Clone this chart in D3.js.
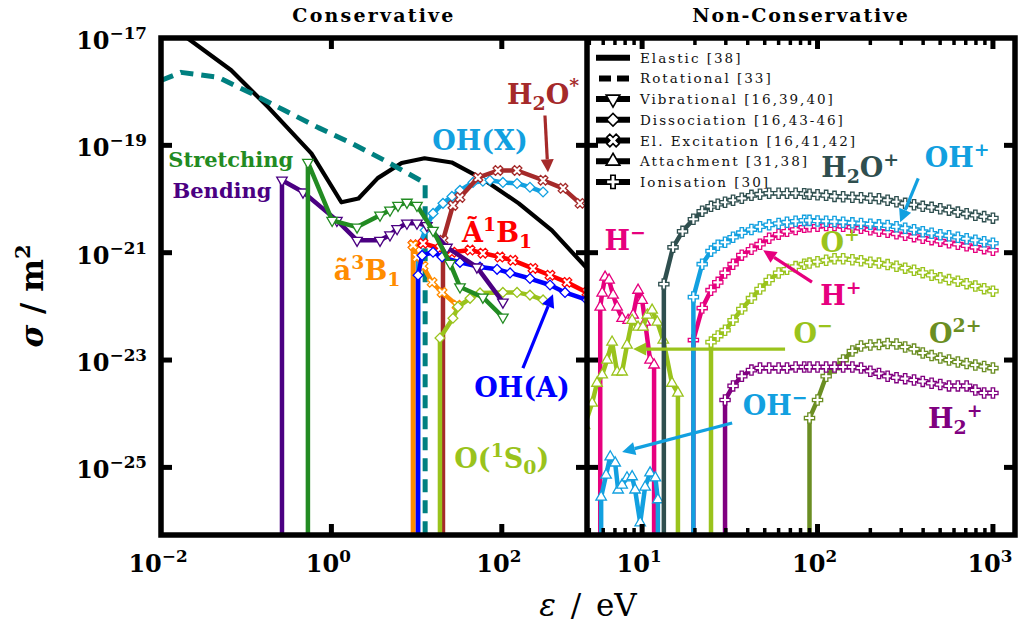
<!DOCTYPE html>
<html>
<head>
<meta charset="utf-8">
<script src="https://cdn.jsdelivr.net/npm/d3@7"></script>
<style>
  body { margin: 0; background: #fff; }
  svg text { font-family: "DejaVu Serif", serif; }
</style>
</head>
<body>
<svg id="chart" width="1024" height="630"></svg>
<script>
// ---------- data: [energy eV, cross section m^2] ----------
const elastic = [[0.015,1.4e-17],[0.0225,8.9e-18],[0.0667,2.5e-18],[0.182,5.1e-19],[0.582,7.1e-20],[1.31,8.7e-21],[2.08,1.02e-20],[3.5,2.45e-20],[6.67,4.7e-20],[12.4,5.75e-20],[25.8,4.8e-20],[63,2.24e-20],[158,8.3e-21],[387,2.6e-21],[1000,5.1e-22]];
const rotational = [[0.01,1.62e-18],[0.0172,2.29e-18],[0.0469,1.86e-18],[0.1146,9.3e-19],[0.28,4.5e-19],[0.703,2.14e-19],[1.72,1.1e-19],[4.2,5.25e-20],[11,2.24e-20],[12.6,2.0e-20],[12.6,0]];

const vibStretching = [[0.53,0],[0.53,4.8e-20],[1.02,4.0e-21],[2.0,3.0e-21],[3.72,5.0e-21],[4.87,6.2e-21],[6.05,7.6e-21],[7.7,8.7e-21],[10.1,7.6e-21],[15.6,2.6e-21],[24.7,6.3e-22],[32.3,2.3e-22],[60,1.48e-22],[103,6.3e-23]];
const vibBending = [[0.263,0],[0.263,2.24e-20],[0.464,1.35e-20],[1.16,4.0e-21],[2.0,1.7e-21],[3.72,1.7e-21],[4.87,2.14e-21],[5.9,2.8e-21],[7.7,3.55e-21],[10.1,3.55e-21],[13.2,3.2e-21],[22.7,1.26e-21],[51,5.4e-22],[103,1.2e-22]];

const excA3B1 = [[9.1,0],[9.1,1.38e-21],[10.1,8.3e-22],[11.9,5.6e-22],[15.2,2.8e-22],[19.9,1.82e-22],[29.8,1.05e-22]];
const excA1B1 = [[9.1,0],[9.1,1.4e-21],[11.9,1.5e-21],[18.8,1.2e-21],[26,1.02e-21],[42.4,1.12e-21],[60,9.8e-22],[95,8.3e-22],[135,7.2e-22],[232,5.1e-22],[368,3.8e-22],[582,2.8e-22],[1000,1.82e-22]];
const excH2Ostar = [[20.4,0],[20.4,1.7e-21],[26.7,7.6e-21],[32.3,1.07e-20],[52.5,2.5e-20],[90,3.4e-20],[151,3.4e-20],[305,2.24e-20],[523,1.58e-20],[828,8.3e-21]];

const dissOHX = [[10.4,0],[10.4,1.12e-21],[12.6,2.63e-21],[15.6,5.4e-21],[20.4,8.3e-21],[26,1.12e-20],[32.3,1.45e-20],[45.9,2.04e-20],[60,2.14e-20],[72.6,2.24e-20],[103,2.04e-20],[151,1.95e-20],[214,1.66e-20],[305,1.35e-20]];
const dissOHA = [[10.4,0],[10.4,3.8e-22],[11.6,8.9e-22],[15.6,1.02e-21],[19.9,8.3e-22],[32.3,6.6e-22],[55.5,5.4e-22],[88,4.9e-22],[125,4.2e-22],[214,3.3e-22],[368,2.5e-22],[552,1.82e-22],[1000,1.32e-22]];
const dissO1S0 = [[18.8,0],[18.8,2.57e-23],[26.7,6.0e-23],[30.6,9.8e-23],[42.4,1.41e-22],[55.5,1.78e-22],[103,1.82e-22],[151,1.82e-22],[214,1.62e-22],[305,1.32e-22]];

// ionisation, shared energy grid (null = below threshold)
const ionEnergy = [13.3,15,17,19.6,22,24.7,27,29.7,33,37,42,47,53,60,67,75,84,90,100,112,125,140,158,177,200,224,251,282,316,355,398,447,501,562,631,708,794,891,1000];
const ionH2Op = [2.6e-22,1.26e-21,2.5e-21,4.2e-21,5.9e-21,7.3e-21,8.0e-21,8.7e-21,9.5e-21,1.03e-20,1.17e-20,1.23e-20,1.28e-20,1.28e-20,1.28e-20,1.28e-20,1.26e-20,1.23e-20,1.2e-20,1.17e-20,1.12e-20,1.1e-20,1.08e-20,1.06e-20,1.03e-20,1.01e-20,9.5e-21,8.9e-21,8.3e-21,7.8e-21,7.3e-21,7.0e-21,6.6e-21,6.2e-21,5.7e-21,5.3e-21,5.0e-21,4.7e-21,4.4e-21];
const ionOHp = [null,null,null,1.49e-22,6.1e-22,1.07e-21,1.38e-21,1.57e-21,1.94e-21,2.36e-21,2.7e-21,3.05e-21,3.3e-21,3.5e-21,3.7e-21,3.85e-21,4.0e-21,4.0e-21,3.9e-21,3.85e-21,3.8e-21,3.7e-21,3.6e-21,3.5e-21,3.4e-21,3.3e-21,3.2e-21,3.05e-21,2.86e-21,2.68e-21,2.46e-21,2.3e-21,2.16e-21,2.07e-21,1.94e-21,1.82e-21,1.71e-21,1.6e-21,1.5e-21];
const ionHp = [null,null,null,2.36e-23,9.3e-23,2.0e-22,2.8e-22,4.2e-22,6.1e-22,9.0e-22,1.16e-21,1.44e-21,1.86e-21,2.2e-21,2.5e-21,2.7e-21,2.98e-21,3.05e-21,3.1e-21,3.2e-21,3.2e-21,3.1e-21,2.98e-21,2.86e-21,2.68e-21,2.5e-21,2.4e-21,2.25e-21,2.12e-21,1.99e-21,1.86e-21,1.75e-21,1.64e-21,1.53e-21,1.44e-21,1.35e-21,1.26e-21,1.19e-21,1.11e-21];
const ionOp = [null,null,null,null,null,2.16e-23,2.8e-23,3.6e-23,5.5e-23,8.9e-23,1.42e-22,2.1e-22,3.1e-22,4.2e-22,4.9e-22,5.5e-22,6.1e-22,6.4e-22,6.8e-22,7.25e-22,7.7e-22,7.7e-22,7.4e-22,7.1e-22,6.65e-22,6.4e-22,6.0e-22,5.6e-22,5.15e-22,4.7e-22,4.25e-22,3.8e-22,3.4e-22,3.15e-22,2.95e-22,2.65e-22,2.4e-22,2.14e-22,1.92e-22];
const ionH2p = [null,null,null,null,null,null,null,1.8e-24,3.3e-24,5.0e-24,6.5e-24,7.1e-24,7.1e-24,7.1e-24,7.1e-24,7.4e-24,7.4e-24,7.4e-24,7.4e-24,7.4e-24,7.4e-24,7.4e-24,7.4e-24,7.1e-24,6.2e-24,5.6e-24,5.0e-24,4.7e-24,4.5e-24,4.25e-24,4.0e-24,3.7e-24,3.5e-24,3.3e-24,3.3e-24,3.3e-24,2.77e-24,2.43e-24,2.43e-24];
const ionO2p = [null,null,null,null,null,null,null,null,null,null,null,null,null,null,null,null,null,8.3e-25,1.8e-24,5.0e-24,7.1e-24,1.0e-23,1.47e-23,1.82e-23,1.9e-23,1.94e-23,2.03e-23,1.99e-23,1.75e-23,1.6e-23,1.35e-23,1.21e-23,1.09e-23,1.0e-23,9.2e-24,8.6e-24,8.1e-24,7.6e-24,7.1e-24];

// attachment
const attHmE = [5.77,5.77,5.92,6.15,6.48,6.83,7.2,7.69,8.32,8.89,9.48,10,10.4,11.1,11.7,11.7];
const attHm  = [0,9.7e-23,1.77e-22,3.5e-22,3.1e-22,1.62e-22,9.7e-23,6.0e-23,5.5e-23,6.9e-23,2.0e-22,1.3e-22,5.1e-23,1.0e-23,8.1e-24,0];
const attOmE = [4.7,5.19,5.53,5.92,6.31,6.74,7.2,7.69,8.2,8.77,9.48,10.1,10.7,11.4,12.2,13.2,14.8,16.0,16.0];
const attOm  = [6e-25,1.58e-24,3.7e-24,5.3e-24,1.0e-23,2.16e-23,6.0e-24,6.0e-24,1.9e-23,5.5e-23,4.1e-23,4.1e-23,6.9e-23,8.5e-23,5.1e-23,2.36e-23,3.7e-24,2.43e-24,0];
const attOHmE = [5.84,5.84,6.23,6.58,7.02,7.3,7.69,8.2,8.77,9.12,9.75,10.4,11.1,11.9,12.3,12.3];
const attOHm  = [0,2.8e-26,7.2e-26,1.57e-25,1.21e-25,3.8e-26,4.7e-26,6.4e-26,6.7e-26,3.8e-26,9.3e-27,4.3e-26,7.9e-26,6.4e-26,2.5e-26,0];

// legend + axes text
const legendLabels = ["Elastic [38]", "Rotational [33]", "Vibrational [16,39,40]", "Dissociation [16,43-46]", "El. Excitation [16,41,42]", "Attachment [31,38]", "Ionisation [30]"];
const legendShapes = ["line", "dash", "triDown", "diamond", "cross", "triUp", "plus"];
const yTickExp = [-17, -19, -21, -23, -25];
const xTickExpL = [-2, 0, 2];
const xTickExpR = [1, 2, 3];
const minorTicksR = [5,6,7,8,9,20,30,40,50,60,70,80,90,200,300,400,500,600,700,800,900];

const C = {
  teal: "#008080", green: "#228b22", indigo: "#4b0082", orange: "#ff8c00", red: "#ff0000",
  brown: "#a52a2a", lightblue: "#12a0e0", blue: "#0000ff", ygreen: "#9ac31c",
  slate: "#2f4f4f", pink: "#e6007e", olive: "#6b8e23", purple: "#800080"
};

// ---------- setup ----------
const svg = d3.select("#chart");
svg.append("rect").attr("width", 1024).attr("height", 630).attr("fill", "#fff");

const top_ = 38, bottom = 535, xa = 161, xm = 587, xb = 1015;
const y = d3.scaleLog().domain([1e-17, 5.5e-27]).range([top_, bottom]);
const xL = d3.scaleLog().domain([0.01, 1000]).range([xa, xm]);
const xR = d3.scaleLog().domain([4.85, 1336]).range([xm, xb]);
const yv = s => s > 0 ? y(s) : bottom + 40;

const defs = svg.append("defs");
defs.append("clipPath").attr("id", "clipL").append("rect")
    .attr("x", xa).attr("y", top_).attr("width", xm - xa).attr("height", bottom - top_);
defs.append("clipPath").attr("id", "clipR").append("rect")
    .attr("x", xm).attr("y", top_).attr("width", xb - xm).attr("height", bottom - top_);

const shapes = {
  triDown: { type: d3.symbolTriangle, size: 48, rot: 180 },
  triUp: { type: d3.symbolTriangle, size: 48, rot: 0 },
  diamond: { type: d3.symbolSquare, size: 48, rot: 45 },
  cross: { type: d3.symbolCross, size: 58, rot: 45 },
  plus: { type: d3.symbolCross, size: 58, rot: 0 }
};

const zip = (es, ss) => es.map((e, i) => [e, ss[i]]);
const ionSeries = ss => {
  const pts = zip(ionEnergy, ss).filter(d => d[1] != null);
  return [[pts[0][0], 0], ...pts];
};

function drawSeries(g, x, pts, color, shape, opts = {}) {
  const line = d3.line().x(d => x(d[0])).y(d => yv(d[1]));
  const p = g.append("path").datum(pts)
      .attr("d", line).attr("fill", "none")
      .attr("stroke", color).attr("stroke-width", opts.width || 4.5)
      .attr("stroke-linejoin", "round");
  if (opts.dash) p.attr("stroke-dasharray", opts.dash);
  if (!shape) return;
  const s = shapes[shape];
  g.selectAll(null).data(pts.filter(d => d[1] > 0)).join("path")
      .attr("d", d3.symbol(s.type, s.size)())
      .attr("transform", d => `translate(${x(d[0])},${y(d[1])}) rotate(${s.rot})`)
      .attr("fill", "#fff").attr("stroke", color).attr("stroke-width", 1.3);
}

function richText(g, px, py, parts, size, color, opts = {}) {
  const t = g.append("text").attr("x", px).attr("y", py)
      .attr("fill", color).attr("font-size", size)
      .attr("font-weight", opts.weight || "bold")
      .attr("text-anchor", opts.anchor || "middle");
  let prev = 0;
  parts.forEach(([str, lvl]) => {
    const off = lvl > 0 ? -0.42 * size : lvl < 0 ? 0.22 * size : 0;
    t.append("tspan").attr("dy", off - prev)
        .attr("font-size", lvl ? size * 0.7 : size).text(str);
    prev = off;
  });
  return t;
}

function arrow(g, x, p0, p1, color) {
  const x0 = x(p0[0]), y0 = y(p0[1]), x1 = x(p1[0]), y1 = y(p1[1]);
  const a = Math.atan2(y1 - y0, x1 - x0), L = 13, W = 6.5;
  const bx = x1 - L * Math.cos(a), by = y1 - L * Math.sin(a);
  g.append("line").attr("x1", x0).attr("y1", y0).attr("x2", bx).attr("y2", by)
      .attr("stroke", color).attr("stroke-width", 3.2);
  g.append("polygon").attr("fill", color).attr("points", [
    [x1, y1],
    [bx + W * Math.sin(a), by - W * Math.cos(a)],
    [bx - W * Math.sin(a), by + W * Math.cos(a)]
  ].map(p => p.join(",")).join(" "));
}

// ---------- left panel: conservative ----------
const gL = svg.append("g").attr("clip-path", "url(#clipL)");
drawSeries(gL, xL, elastic, "#000", null, { width: 4.2 });
drawSeries(gL, xL, rotational, C.teal, null, { width: 5, dash: "13,8" });
drawSeries(gL, xL, dissOHX, C.lightblue, "diamond");
drawSeries(gL, xL, excA1B1, C.red, "cross");
drawSeries(gL, xL, excH2Ostar, C.brown, "cross");
drawSeries(gL, xL, excA3B1, C.orange, "cross");
drawSeries(gL, xL, dissOHA, C.blue, "diamond");
drawSeries(gL, xL, dissO1S0, C.ygreen, "diamond");
drawSeries(gL, xL, vibBending, C.indigo, "triDown");
drawSeries(gL, xL, vibStretching, C.green, "triDown");

const leftLabels = [
  { parts: [["Stretching", 0]], E: 0.066, s: 3.9e-20, color: C.green, size: 21 },
  { parts: [["Bending", 0]], E: 0.052, s: 1.03e-20, color: C.indigo, size: 21 },
  { parts: [["ã", 0], ["3", 1], ["B", 0], ["1", -1]], E: 2.62, s: 3.1e-22, color: C.orange, size: 27 },
  { parts: [["Ã", 0], ["1", 1], ["B", 0], ["1", -1]], E: 88, s: 1.57e-21, color: C.red, size: 27 },
  { parts: [["OH(X)", 0]], E: 55.5, s: 8.1e-20, color: C.lightblue, size: 27 },
  { parts: [["H", 0], ["2", -1], ["O", 0], ["*", 1]], E: 305, s: 6.0e-19, color: C.brown, size: 27 },
  { parts: [["OH(A)", 0]], E: 173, s: 2.05e-24, color: C.blue, size: 27 },
  { parts: [["O(", 0], ["1", 1], ["S", 0], ["0", -1], [")", 0]], E: 100, s: 9.8e-26, color: C.ygreen, size: 27 }
];
leftLabels.forEach(l => richText(svg, xL(l.E), y(l.s), l.parts, l.size, l.color));
arrow(svg, xL, [321, 3.6e-19], [348, 3.15e-20], C.brown);
arrow(svg, xL, [177, 7.1e-24], [399, 1.69e-22], C.blue);

// ---------- right panel: non-conservative ----------
const gR = svg.append("g").attr("clip-path", "url(#clipR)");
drawSeries(gR, xR, zip(attHmE, attHm), C.pink, "triUp");
drawSeries(gR, xR, zip(attOmE, attOm), C.ygreen, "triUp");
drawSeries(gR, xR, zip(attOHmE, attOHm), C.lightblue, "triUp");
drawSeries(gR, xR, ionSeries(ionO2p), C.olive, "plus");
drawSeries(gR, xR, ionSeries(ionH2p), C.purple, "plus");
drawSeries(gR, xR, ionSeries(ionOp), C.ygreen, "plus");
drawSeries(gR, xR, ionSeries(ionHp), C.pink, "plus");
drawSeries(gR, xR, ionSeries(ionOHp), C.lightblue, "plus");
drawSeries(gR, xR, ionSeries(ionH2Op), C.slate, "plus");

const rightLabels = [
  { parts: [["H", 0], ["2", -1], ["O", 0], ["+", 1]], E: 175, s: 2.54e-20, color: C.slate },
  { parts: [["OH", 0], ["+", 1]], E: 625, s: 3.9e-20, color: C.lightblue },
  { parts: [["H", 0], ["−", 1]], E: 8.0, s: 1.11e-21, color: C.pink },
  { parts: [["O", 0], ["+", 1]], E: 134.6, s: 1.02e-21, color: C.ygreen },
  { parts: [["H", 0], ["+", 1]], E: 136, s: 1.05e-22, color: C.pink },
  { parts: [["O", 0], ["−", 1]], E: 94.4, s: 2.07e-23, color: C.ygreen },
  { parts: [["O", 0], ["2+", 1]], E: 610, s: 2.07e-23, color: C.olive },
  { parts: [["H", 0], ["2", -1], ["+", 1]], E: 610, s: 5.4e-25, color: C.purple },
  { parts: [["OH", 0], ["−", 1]], E: 57.3, s: 9.5e-25, color: C.lightblue }
];
rightLabels.forEach(l => richText(svg, xR(l.E), y(l.s), l.parts, 27, l.color));
arrow(svg, xR, [375, 2.43e-20], [296, 3.7e-21], C.lightblue);
arrow(svg, xR, [93, 2.82e-22], [49, 1.11e-21], C.pink);
arrow(svg, xR, [65.3, 1.6e-23], [8.89, 1.6e-23], C.ygreen);
arrow(svg, xR, [32.6, 6.7e-25], [7.69, 1.94e-25], C.lightblue);

// legend
const leg = svg.append("g");
legendLabels.forEach((name, i) => {
  const ly = 57.7 + i * 20.7, kind = legendShapes[i];
  if (kind === "dash") {
    leg.append("line").attr("x1", 599).attr("x2", 630).attr("y1", ly).attr("y2", ly)
        .attr("stroke", "#000").attr("stroke-width", 6).attr("stroke-dasharray", "12,6");
  } else {
    leg.append("line").attr("x1", 596).attr("x2", 630).attr("y1", ly).attr("y2", ly)
        .attr("stroke", "#000").attr("stroke-width", 6);
  }
  if (shapes[kind]) {
    const s = shapes[kind];
    leg.append("path").attr("d", d3.symbol(s.type, s.size * 1.7)())
        .attr("transform", `translate(613,${ly}) rotate(${s.rot})`)
        .attr("fill", "#fff").attr("stroke", "#000").attr("stroke-width", 1.6);
  }
  leg.append("text").attr("x", 640).attr("y", ly + 5)
      .attr("font-size", 13.5).attr("letter-spacing", 2).attr("fill", "#111").text(name);
});

// ---------- frame, ticks, labels ----------
const fr = svg.append("g").attr("stroke", "#000").attr("fill", "none");
fr.append("rect").attr("x", xa).attr("y", top_).attr("width", xb - xa).attr("height", bottom - top_)
    .attr("stroke-width", 5.5);
fr.append("line").attr("x1", xm).attr("x2", xm).attr("y1", top_).attr("y2", bottom).attr("stroke-width", 5.5);

const tick = (x1, y1, x2, y2, w) => fr.append("line")
    .attr("x1", x1).attr("y1", y1).attr("x2", x2).attr("y2", y2).attr("stroke-width", w);
yTickExp.slice(1).forEach(e => {
  const ty = y(Math.pow(10, e));
  tick(xa, ty, xa + 11, ty, 5);
  tick(xm - 11, ty, xm + 11, ty, 5);
  tick(xb - 11, ty, xb, ty, 5);
});
[1, 100].forEach(v => {
  tick(xL(v), top_, xL(v), top_ + 11, 5);
  tick(xL(v), bottom - 11, xL(v), bottom, 5);
});
xTickExpR.forEach(e => {
  const tx = xR(Math.pow(10, e));
  tick(tx, top_, tx, top_ + 11, 5);
  tick(tx, bottom - 11, tx, bottom, 5);
});
minorTicksR.forEach(v => {
  tick(xR(v), top_, xR(v), top_ + 7, 3.5);
  tick(xR(v), bottom - 7, xR(v), bottom, 3.5);
});

yTickExp.forEach(e => richText(svg, 147, y(Math.pow(10, e)) + 11,
    [["10", 0], [(e < 0 ? "−" : "") + Math.abs(e), 1]], 24, "#000", { anchor: "end" }));
xTickExpL.forEach(e => richText(svg, xL(Math.pow(10, e)) - 3, 572,
    [["10", 0], [(e < 0 ? "−" : "") + Math.abs(e), 1]], 24, "#000"));
xTickExpR.forEach(e => richText(svg, xR(Math.pow(10, e)) - 3, 572,
    [["10", 0], [String(e), 1]], 24, "#000"));

svg.append("text").attr("x", (xa + xm) / 2).attr("y", 22).attr("text-anchor", "middle")
    .attr("font-size", 19).attr("font-weight", "bold").attr("letter-spacing", 2.2).text("Conservative");
svg.append("text").attr("x", (xm + xb) / 2).attr("y", 22).attr("text-anchor", "middle")
    .attr("font-size", 19).attr("font-weight", "bold").attr("letter-spacing", 1.8).text("Non-Conservative");

const xt = svg.append("text").attr("x", (xa + xb) / 2).attr("y", 616).attr("text-anchor", "middle")
    .attr("font-size", 31).attr("word-spacing", 5);
xt.append("tspan").attr("font-style", "italic").text("ε");
xt.append("tspan").text(" / eV");

const yt = svg.append("text").attr("transform", "translate(43,296) rotate(-90)")
    .attr("text-anchor", "middle").attr("font-size", 31).attr("font-weight", "bold");
yt.append("tspan").attr("font-style", "italic").text("σ");
yt.append("tspan").text(" / m");
yt.append("tspan").attr("font-size", 21).attr("dy", -13).text("2");
</script>
</body>
</html>
